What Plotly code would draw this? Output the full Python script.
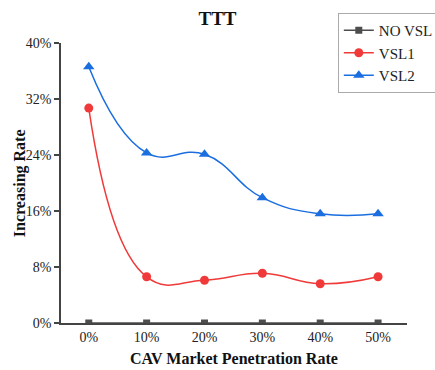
import plotly.graph_objects as go

categories = ["0%", "10%", "20%", "30%", "40%", "50%"]
no_vsl = [0, 0, 0, 0, 0, 0]
vsl1 = [30.7, 6.6, 6.1, 7.1, 5.6, 6.6]
vsl2 = [36.6, 24.3, 24.1, 17.9, 15.6, 15.6]
y_ticks = [0, 8, 16, 24, 32, 40]

font_family = "Liberation Serif, Times New Roman, serif"
xs = list(range(len(categories)))

fig = go.Figure()
fig.add_trace(go.Scatter(
    x=xs, y=no_vsl, name="NO VSL", mode="lines+markers",
    line=dict(color="#4d4d4d", width=1.5, shape="spline"),
    marker=dict(symbol="square", size=7, color="#4d4d4d"),
))
fig.add_trace(go.Scatter(
    x=xs, y=vsl1, name="VSL1", mode="lines+markers",
    line=dict(color="#f03a3a", width=1.5, shape="spline", smoothing=1.3),
    marker=dict(symbol="circle", size=9, color="#f03a3a"),
))
fig.add_trace(go.Scatter(
    x=xs, y=vsl2, name="VSL2", mode="lines+markers",
    line=dict(color="#1a6ee0", width=1.5, shape="spline", smoothing=1.3),
    marker=dict(symbol="triangle-up", size=10, color="#1a6ee0"),
))

fig.update_layout(
    width=435, height=370,
    margin=dict(l=61, r=28, t=43, b=47, autoexpand=False),
    paper_bgcolor="white", plot_bgcolor="white",
    font=dict(family=font_family, size=14, color="#222"),
    title=dict(text="<b>TTT</b>", x=0.5, xanchor="center", y=0.95, yanchor="middle",
               font=dict(size=19, color="#111")),
    legend=dict(x=0.80, y=1.107, xanchor="left", yanchor="top",
                bgcolor="white", bordercolor="#aaa", borderwidth=1,
                font=dict(size=15, color="#222"), tracegroupgap=0,
                itemwidth=30),
    showlegend=True,
    annotations=[
        dict(text="<b>CAV Market Penetration Rate</b>", xref="paper", yref="paper",
             x=0.5, y=-0.128, xanchor="center", yanchor="middle", showarrow=False,
             font=dict(size=16, color="#111")),
        dict(text="<b>Increasing Rate</b>", xref="paper", yref="paper",
             x=-0.118, y=0.5, xanchor="center", yanchor="middle", showarrow=False,
             textangle=-90, font=dict(size=16, color="#111")),
    ],
)
fig.update_xaxes(
    range=[-0.48, 5.5], tickmode="array", tickvals=xs, ticktext=categories,
    showgrid=False, zeroline=False, showline=True, linecolor="#444", linewidth=1.5,
    ticks="", automargin=False,
)
fig.update_yaxes(
    range=[0, 40], tickmode="array", tickvals=y_ticks,
    ticktext=[f"{v}%" for v in y_ticks],
    showgrid=False, zeroline=False, showline=True, linecolor="#444", linewidth=1.5,
    ticks="outside", ticklen=5, tickcolor="#444", tickwidth=1.5, automargin=False,
)

fig.write_html("out.html")
